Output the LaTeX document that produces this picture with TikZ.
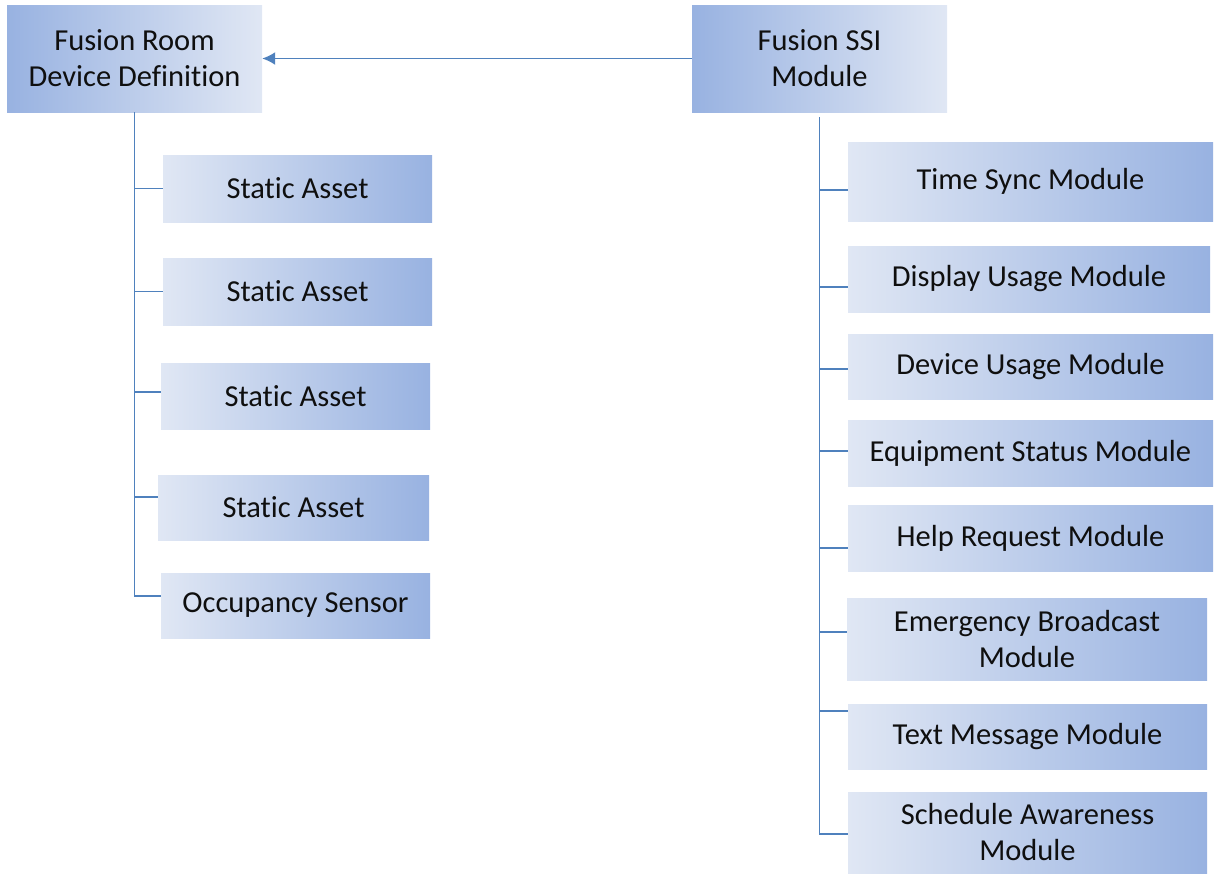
\documentclass[tikz,border=0pt]{standalone}
\usepackage{fontspec}
\setmainfont{Carlito}[Ligatures={NoCommon}]
\usetikzlibrary{arrows.meta}
\definecolor{dk}{RGB}{152,178,225}
\definecolor{lt}{RGB}{224,231,244}
\definecolor{ln}{RGB}{79,129,189}
\definecolor{tx}{RGB}{15,15,15}
\begin{document}
\begin{tikzpicture}[x=1pt,y=-1pt,
  box/.style={inner sep=0pt, align=center, text=tx,
    font=\fontsize{30.5}{36}\selectfont},
  parent/.style={box, left color=dk, right color=lt},
  child/.style={box, left color=lt, right color=dk},
  conn/.style={draw=ln, line width=1.8pt}]
\useasboundingbox (0,0) rectangle (1215,873);
% parents
\node[parent, minimum width=255, minimum height=107] (p1) at (134.5,58.5) {Fusion Room\\Device Definition};
\node[parent, minimum width=255, minimum height=107] (p2) at (819.5,58.5) {Fusion SSI\\Module};
% left children
\node[child, minimum width=269, minimum height=67] (c1) at (297.5,188.5) {Static Asset};
\node[child, minimum width=269, minimum height=67] (c2) at (297.5,291.5) {Static Asset};
\node[child, minimum width=269, minimum height=66] (c3) at (295.5,396) {Static Asset};
\node[child, minimum width=271, minimum height=65] (c4) at (293.5,507.5) {Static Asset};
\node[child, minimum width=269, minimum height=65] (c5) at (295.5,605.5) {Occupancy Sensor};
% right children
\node[child, minimum width=365, minimum height=79] (d1) at (1030.5,181.5) {Time Sync Module};
\node[child, minimum width=362, minimum height=66] (d2) at (1029,279) {Display Usage Module};
\node[child, minimum width=365, minimum height=65] (d3) at (1030.5,366.5) {Device Usage Module};
\node[child, minimum width=365, minimum height=66] (d4) at (1030.5,453) {Equipment Status Module};
\node[child, minimum width=365, minimum height=66] (d5) at (1030.5,538) {Help Request Module};
\node[child, minimum width=360, minimum height=82] (d6) at (1027,639) {Emergency Broadcast\\Module};
\node[child, minimum width=359, minimum height=65] (d7) at (1027.5,736.5) {Text Message Module};
\node[child, minimum width=359, minimum height=81] (d8) at (1027.5,832.5) {Schedule Awareness\\Module};
% arrow
\draw[conn, -{Latex[length=13pt,width=13pt]}] (p2.west) -- (p1.east);
% left tree
\draw[conn] (p1.south) |- (c1.west);
\draw[conn] (p1.south) |- (c2.west);
\draw[conn] (p1.south) |- ([yshift=4]c3.west);
\draw[conn] (p1.south) |- ([yshift=10.5]c4.west);
\draw[conn] (p1.south) |- ([yshift=9.5]c5.west);
% right tree
\coordinate (r0) at ([yshift=-5]p2.south);
\draw[conn] (r0) |- ([yshift=-8.5]d1.west);
\draw[conn] (r0) |- ([yshift=-8]d2.west);
\draw[conn] (r0) |- ([yshift=-2.5]d3.west);
\draw[conn] (r0) |- ([yshift=2]d4.west);
\draw[conn] (r0) |- ([yshift=-10]d5.west);
\draw[conn] (r0) |- ([yshift=7]d6.west);
\draw[conn] (r0) |- ([yshift=25.5]d7.west);
\draw[conn] (r0) |- ([yshift=-1.5]d8.west);
\end{tikzpicture}
\end{document}
